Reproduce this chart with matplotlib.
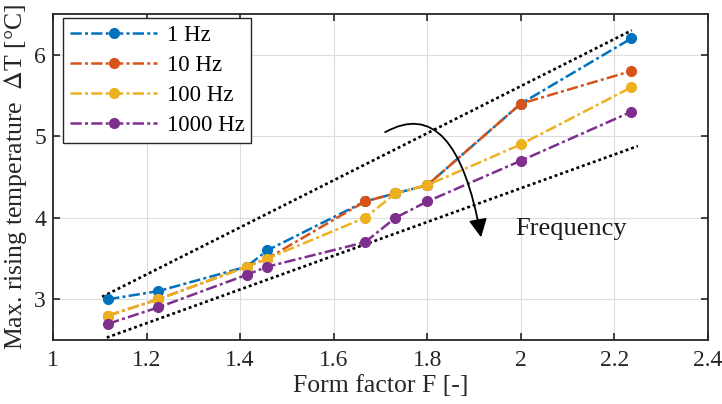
import matplotlib
matplotlib.use("Agg")
import matplotlib.pyplot as plt
from matplotlib.patches import FancyArrowPatch
from matplotlib.path import Path

plt.rcParams['font.family'] = ['Liberation Serif', 'DejaVu Serif']
plt.rcParams['mathtext.fontset'] = 'stix'

form_factor = [1.118, 1.225, 1.414, 1.458, 1.667, 1.732, 1.8, 2.0, 2.236]
dT_1hz = [3.0, 3.1, 3.4, 3.6, 4.2, 4.3, 4.4, 5.4, 6.2]
dT_10hz = [2.8, 3.0, 3.4, 3.5, 4.2, 4.3, 4.4, 5.4, 5.8]
dT_100hz = [2.8, 3.0, 3.4, 3.5, 4.0, 4.3, 4.4, 4.9, 5.6]
dT_1000hz = [2.7, 2.9, 3.3, 3.4, 3.7, 4.0, 4.2, 4.7, 5.3]
labels = ['1 Hz', '10 Hz', '100 Hz', '1000 Hz']
colors = ['#0072BD', '#D95319', '#EDB120', '#7E2F8E']

upper_x = [1.105, 2.237]
upper_y = [3.03, 6.30]
lower_x = [1.115, 2.25]
lower_y = [2.53, 4.88]

# curved "Frequency" arrow: start, control, end (data coords)
arrow_pts = [(1.71, 5.05), (1.86, 5.53), (1.915, 3.76)]

fig = plt.figure(figsize=(7.22, 4.04), dpi=100)
ax = fig.add_axes([0.0734, 0.1584, 0.9072, 0.8069])

ax.plot(upper_x, upper_y, color='black', linestyle=(0, (1.1, 1.1)), lw=1.9, zorder=2)
ax.plot(lower_x, lower_y, color='black', linestyle=(0, (1.1, 1.1)), lw=1.9, zorder=2)

for ys, lab, c in zip([dT_1hz, dT_10hz, dT_100hz, dT_1000hz], labels, colors):
    ax.plot(form_factor, ys, color=c, lw=1.8, linestyle=(0, (4.5, 1.3, 1.2, 1.3)),
            marker='o', markersize=7, label=lab, zorder=3)

arrow_path = Path(arrow_pts, [Path.MOVETO, Path.CURVE3, Path.CURVE3])
arrow = FancyArrowPatch(path=arrow_path, transform=ax.transData,
                        arrowstyle='-|>,head_length=1.1,head_width=0.55',
                        mutation_scale=10, color='black', lw=1.3, zorder=4)
ax.add_patch(arrow)
ax.text(1.987, 3.86, 'Frequency', fontsize=19, va='center', ha='left', color='#1a1a1a')

ax.set_xlim(1, 2.4)
ax.set_ylim(2.5, 6.5)
ax.set_xticks([1, 1.2, 1.4, 1.6, 1.8, 2, 2.2, 2.4])
ax.set_xticklabels(['1', '1.2', '1.4', '1.6', '1.8', '2', '2.2', '2.4'])
ax.set_yticks([3, 4, 5, 6])
ax.grid(True, color='#dddddd', lw=0.8)
ax.set_axisbelow(True)
ax.tick_params(direction='in', top=True, right=True, labelsize=17, length=5, width=1.2,
               colors='#262626')
ax.tick_params(axis='x', pad=7)
ax.tick_params(axis='y', pad=5)
for s in ax.spines.values():
    s.set_linewidth(1.3)
    s.set_color('#262626')

ax.set_xlabel('Form factor F [-]', fontsize=18.5, color='#262626', labelpad=3)
ax.set_ylabel('Max. rising temperature  $\\Delta$T [°C]', fontsize=18.5, color='#262626',
              labelpad=4)

leg = ax.legend(loc='upper left', fontsize=16.5, fancybox=False, edgecolor='#262626',
                framealpha=1, handlelength=3.8, handletextpad=0.4, borderpad=0.3,
                labelspacing=0.4, borderaxespad=0.0, bbox_to_anchor=(0.016, 0.988))
leg.get_frame().set_linewidth(1.0)

fig.savefig('out.png', dpi=100)
